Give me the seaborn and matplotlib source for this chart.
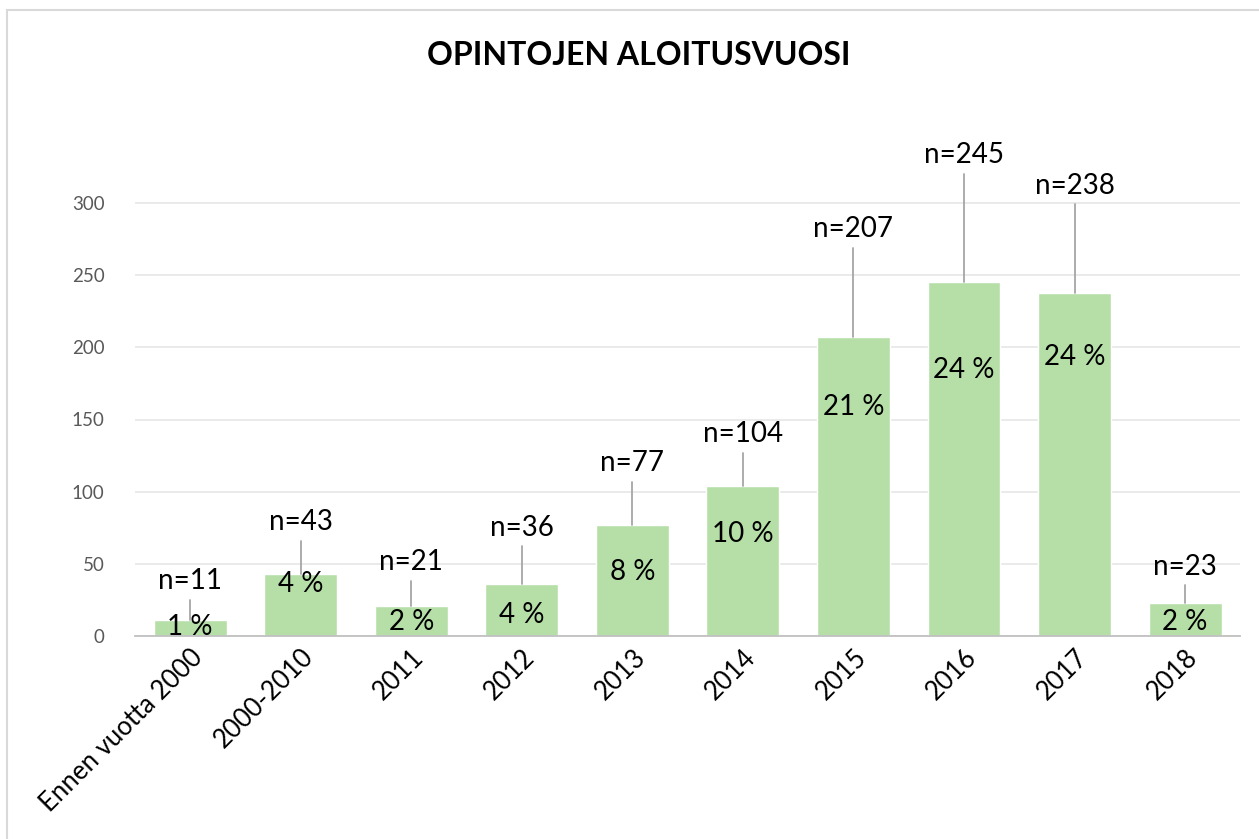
import numpy as np
import pandas as pd
import seaborn as sns
import matplotlib.pyplot as plt
from matplotlib.patches import Rectangle

# Chart data
categories = ["Ennen vuotta 2000", "2000-2010", "2011", "2012", "2013",
              "2014", "2015", "2016", "2017", "2018"]
counts = [11, 43, 21, 36, 77, 104, 207, 245, 238, 23]
percents = ["1 %", "4 %", "2 %", "4 %", "8 %", "10 %", "21 %", "24 %", "24 %", "2 %"]
y_ticks = [0, 50, 100, 150, 200, 250, 300]

df = pd.DataFrame({"vuosi": categories, "n": counts})

sns.set_theme(style="white")
plt.rcParams["font.family"] = ["Lato", "DejaVu Sans"]

fig = plt.figure(figsize=(12.59, 8.39), dpi=100)
ax = fig.add_axes([0.1072, 0.242, 0.878, 0.645])

sns.barplot(data=df, x="vuosi", y="n", color="#b6dfa8", saturation=1,
            width=0.66, ax=ax, zorder=2)

ax.set_ylim(0, 375)
ax.set_xlim(-0.5, len(categories) - 0.5)
ax.set_yticks(y_ticks)
ax.yaxis.grid(True, color="#e8e8e8", linewidth=1.3, zorder=0)
ax.set_axisbelow(True)
for s in ["top", "right", "left"]:
    ax.spines[s].set_visible(False)
ax.spines["bottom"].set_color("#c0c0c0")
ax.spines["bottom"].set_linewidth(1.3)
ax.tick_params(axis="y", labelsize=13.5, labelcolor="#595959", length=0, pad=22)
ax.tick_params(axis="x", labelsize=18.5, labelcolor="#000000", length=0, pad=6)
plt.setp(ax.get_xticklabels(), rotation=45, ha="right", rotation_mode="anchor")
ax.set_xlabel("")
ax.set_ylabel("")

# manual label placement (leader lengths and inside-label heights, data units)
leader_len = [14, 23, 17, 26, 30, 23, 62, 75, 61, 12]
pct_y = [6, 36, 10, 14.5, 44, 71, 159, 184, 193, 10]

for i, (c, p) in enumerate(zip(counts, percents)):
    top = c + leader_len[i]
    ax.plot([i, i], [c, top], color="#a6a6a6", linewidth=1.3, zorder=3)
    ax.text(i, top + 4, f"n={c}", ha="center", va="bottom", fontsize=20,
            color="#000000", zorder=4)
    ax.text(i, pct_y[i], p, ha="center", va="center", fontsize=20,
            color="#000000", zorder=4)

fig.text(0.507, 0.934, "OPINTOJEN ALOITUSVUOSI", ha="center", va="center",
         fontsize=23, fontweight="bold", color="#000000")

# chart frame
fig.patches.append(Rectangle((7 / 1259, -0.05), 1.2, 1 - 10 / 839 + 0.05,
                             transform=fig.transFigure, fill=False,
                             edgecolor="#d9d9d9", linewidth=1.5))

fig.savefig("out.png", dpi=100)
